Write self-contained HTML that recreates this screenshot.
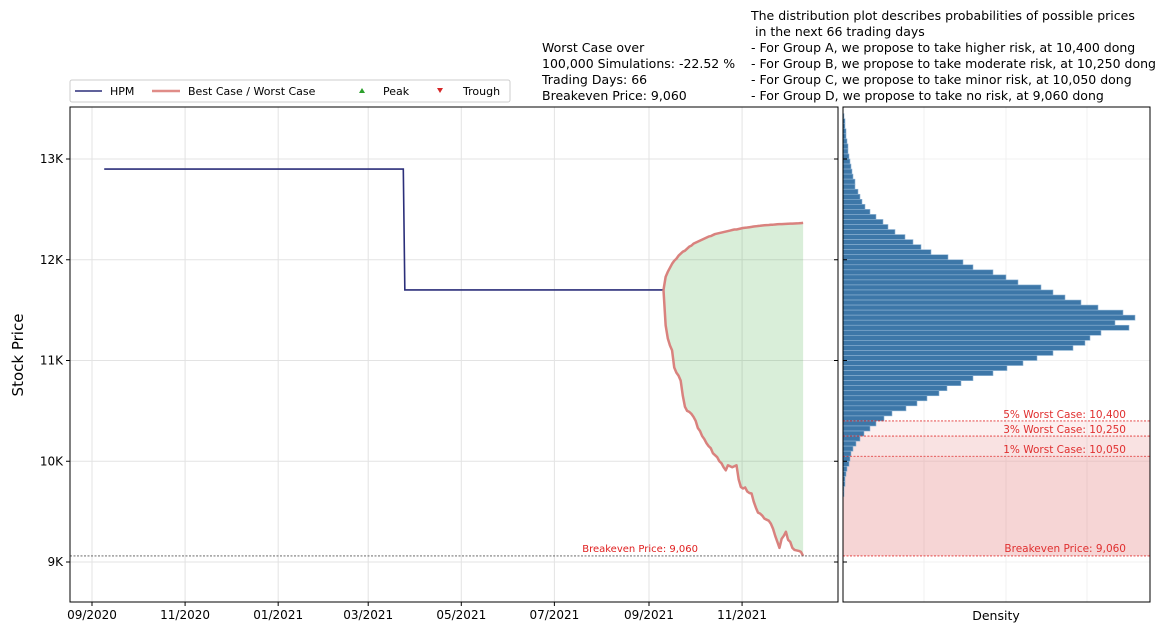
<!DOCTYPE html>
<html><head><meta charset="utf-8"><style>
body{margin:0;background:#fff;font-family:"Liberation Sans","DejaVu Sans",sans-serif;}
svg text{font-family:"DejaVu Sans","Liberation Sans",sans-serif;}
</style></head><body>
<svg id="c" width="1166" height="636" xmlns="http://www.w3.org/2000/svg">
<g id="grid"></g><g id="marks"></g><g id="axes"></g>
</svg>
<script>
const yTicks=[9000,10000,11000,12000,13000];
const yTickLabels=['9K','10K','11K','12K','13K'];
const xTickLabels=['09/2020','11/2020','01/2021','03/2021','05/2021','07/2021','09/2021','11/2021'];
const xTickDays=[0,61,122,181,242,303,365,426];
const hpmDays=[8,204,205,374.5];
const hpmValues=[12900,12900,11700,11700];
const simStartDay=374.5, simEndDay=466;
const bestCase=[11700,11830,11880,11920,11960,11990,12010,12040,12060,12080,12090,12110,12130,12140,12160,12170,12180,12190,12200,12210,12220,12230,12235,12245,12255,12260,12265,12270,12275,12280,12285,12290,12295,12300,12300,12305,12310,12315,12318,12320,12323,12326,12330,12332,12335,12337,12340,12342,12344,12345,12347,12348,12350,12352,12353,12354,12355,12356,12357,12358,12359,12360,12361,12362,12364,12366];
const worstCase=[11700,11350,11220,11150,11100,10930,10880,10850,10800,10650,10540,10500,10490,10470,10440,10400,10330,10300,10250,10220,10180,10150,10130,10080,10060,10040,10000,9980,9940,9910,9960,9950,9940,9950,9960,9820,9745,9730,9740,9700,9685,9680,9600,9540,9490,9480,9460,9430,9420,9410,9380,9330,9260,9200,9140,9230,9260,9300,9220,9200,9140,9120,9115,9110,9100,9060];
const histTop=[1,2,2,3,3,4,5,5,6,7,8,9,10,12,12,15,17,19,22,27,33,40,45,52,62,70,78,88,105,120,130,150,163,175,198,210,222,238,255,280,292,272,286,258,247,242,230,210,194,180,164,150,130,118,104,96,84,74,63,49,41,33,27,21,17,13,10,8,7,6,4,3,2,2,1,1];
const histBinStart=13400, histBinWidth=50;
const riskLevels=[10400,10250,10050];
const riskLabels=['5% Worst Case: 10,400','3% Worst Case: 10,250','1% Worst Case: 10,050'];
const breakeven=9060;

const NS='http://www.w3.org/2000/svg';
const Y=v=>159+(13000-v)*0.10075;
const X=d=>92+d*1.526;
const HX=v=>843+v*1.0;
function el(t,a,p){const e=document.createElementNS(NS,t);for(const k in a)e.setAttribute(k,a[k]);(p||document.getElementById('marks')).appendChild(e);return e;}
function tx(s,a,p){const e=el('text',a,p);e.textContent=s;return e;}
const G=document.getElementById('grid'),A=document.getElementById('axes');
const L=70,R=838,T=107,B=602,HL=843,HR=1150;
const simX=i=>X(simStartDay+(simEndDay-simStartDay)*i/(bestCase.length-1));

yTicks.forEach(v=>{
 let g=el('line',{x1:L,x2:R,y1:Y(v),y2:Y(v),stroke:'#e3e3e3','stroke-width':1},G);
 
 let h=el('line',{x1:HL,x2:HR,y1:Y(v),y2:Y(v),stroke:'#f0f0f0','stroke-width':1},G);
 
});
xTickDays.forEach(d=>{let g=el('line',{x1:X(d),x2:X(d),y1:T,y2:B,stroke:'#e3e3e3'},G);
 });
[924,1006,1087].forEach(x=>{let g=el('line',{x1:x,x2:x,y1:T,y2:B,stroke:'#f0f0f0'},G);
 });

let pts=bestCase.map((v,i)=>simX(i)+','+Y(v)).concat(worstCase.map((v,i)=>simX(i)+','+Y(v)).reverse());
let fill=el('polygon',{points:pts.join(' '),fill:'rgba(44,160,44,0.18)'});

let hp=el('polyline',{points:hpmDays.map((d,i)=>X(d)+','+Y(hpmValues[i])).join(' '),fill:'none',stroke:'#2b2f7a','stroke-width':1.6});

[bestCase,worstCase].forEach((s,k)=>{
 let p=el('polyline',{points:s.map((v,i)=>simX(i)+','+Y(v)).join(' '),fill:'none',stroke:'#d9827e','stroke-width':2.5,'stroke-linejoin':'round'});
 
});
let be=el('line',{x1:L,x2:R,y1:Y(breakeven),y2:Y(breakeven),stroke:'#555','stroke-width':0.8,'stroke-dasharray':'2,1.5'});

let bt=tx('Breakeven Price: 9,060',{x:698,y:Y(breakeven)-4,'font-size':10,fill:'#e02020','text-anchor':'end'});


riskLevels.forEach((v,i)=>{
 let r=el('rect',{x:HL,y:Y(v),width:HR-HL,height:Y(breakeven)-Y(v),fill:'rgba(214,39,40,0.07)'});
 
});
histTop.forEach((c,i)=>{
 const lo=histBinStart-i*histBinWidth;
 let r=el('rect',{x:HL,y:Y(lo+histBinWidth),width:HX(c)-HL,height:Y(lo)-Y(lo+histBinWidth),fill:'#3d77a8',stroke:'#8fb4d4','stroke-width':0.6});
 
});
riskLevels.forEach((v,i)=>{
 let l=el('line',{x1:HL,x2:HR,y1:Y(v),y2:Y(v),stroke:'#e03030','stroke-width':0.8,'stroke-dasharray':'2,1.5'});
 
 let t=tx(riskLabels[i],{x:1126,y:Y(v)-3,'font-size':10.5,fill:'#e03030','text-anchor':'end'});
 
});
let hb=el('line',{x1:HL,x2:HR,y1:Y(breakeven),y2:Y(breakeven),stroke:'#e03030','stroke-width':0.8,'stroke-dasharray':'2,1.5'});

let hbt=tx('Breakeven Price: 9,060',{x:1126,y:Y(breakeven)-4,'font-size':10.5,fill:'#e03030','text-anchor':'end'});


let f1=el('rect',{x:L,y:T,width:R-L,height:B-T,fill:'none',stroke:'#000','stroke-width':1},A);

let f2=el('rect',{x:HL,y:T,width:HR-HL,height:B-T,fill:'none',stroke:'#000','stroke-width':1},A);

yTicks.forEach((v,i)=>{
 el('line',{x1:L-4,x2:L,y1:Y(v),y2:Y(v),stroke:'#000'},A);
 el('line',{x1:R-4,x2:R,y1:Y(v),y2:Y(v),stroke:'#000'},A);
 el('line',{x1:HL,x2:HL+4,y1:Y(v),y2:Y(v),stroke:'#000'},A);
 let t=tx(yTickLabels[i],{x:L-7,y:Y(v)+4,'font-size':12,'text-anchor':'end'},A);
 
});
xTickDays.forEach((d,i)=>{
 el('line',{x1:X(d),x2:X(d),y1:B,y2:B+4,stroke:'#000'},A);
 let t=tx(xTickLabels[i],{x:X(d),y:B+17,'font-size':12,'text-anchor':'middle'},A);
 
});
let yt=tx('Stock Price',{x:0,y:0,'font-size':15,'text-anchor':'middle',transform:'translate(23,355) rotate(-90)'},A);

let dt=tx('Density',{x:996,y:620,'font-size':12.5,'text-anchor':'middle'},A);


let lg=el('g',{},A);
el('rect',{x:70,y:80,width:440,height:22,rx:2,fill:'#fff',stroke:'#ccc'},lg);
el('line',{x1:75,x2:102,y1:91,y2:91,stroke:'#2b2f7a','stroke-width':1.6},lg);
tx('HPM',{x:110,y:95,'font-size':11},lg);
el('line',{x1:152,x2:180,y1:91,y2:91,stroke:'#e08c88','stroke-width':2.5},lg);
tx('Best Case / Worst Case',{x:188,y:95,'font-size':11},lg);
el('polygon',{points:'359,93 362,88 365,93',fill:'#2ca02c'},lg);
tx('Peak',{x:383,y:95,'font-size':11},lg);
el('polygon',{points:'437,88 443,88 440,93',fill:'#d62728'},lg);
tx('Trough',{x:463,y:95,'font-size':11},lg);

const wc=['Worst Case over','100,000 Simulations: -22.52 %','Trading Days: 66','Breakeven Price: 9,060'];
let wg=el('g',{},A);
wc.forEach((s,i)=>tx(s,{x:542,y:52+i*16,'font-size':12.5},wg));
const ds=['The distribution plot describes probabilities of possible prices',' in the next 66 trading days','- For Group A, we propose to take higher risk, at 10,400 dong','- For Group B, we propose to take moderate risk, at 10,250 dong','- For Group C, we propose to take minor risk, at 10,050 dong','- For Group D, we propose to take no risk, at 9,060 dong'];
let dg=el('g',{},A);
ds.forEach((s,i)=>{let t=tx(s,{x:751,y:20+i*16,'font-size':12.5},dg);t.style.whiteSpace='pre';});
</script>
</body></html>
